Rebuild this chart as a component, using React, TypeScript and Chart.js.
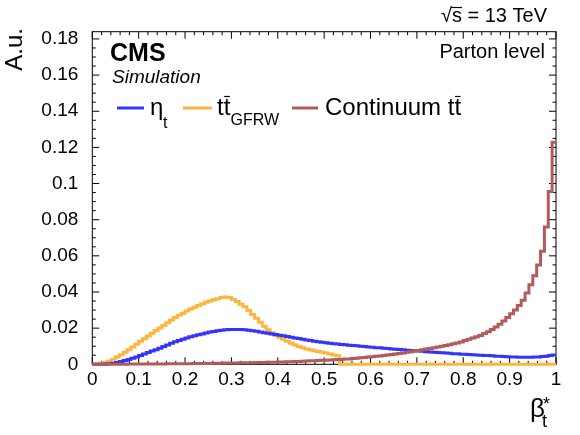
import React, { useEffect, useRef } from "react";
import { Chart, registerables } from "chart.js";

Chart.register(...registerables);

// 120 bins of beta_t* between 0 and 1, normalised (A.u.)
const NBINS = 120;

const etaT = [
  0, 0, 0, 0.0001, 0.0003, 0.0006, 0.001, 0.0015, 0.0021, 0.0027,
  0.0034, 0.0041, 0.0049, 0.0057, 0.0065, 0.0073, 0.0081, 0.0089, 0.0098, 0.0107,
  0.0116, 0.0125, 0.0132, 0.0139, 0.0146, 0.0153, 0.0158, 0.0163, 0.0168, 0.0173,
  0.0178, 0.0182, 0.0186, 0.0189, 0.0191, 0.0193, 0.0193, 0.0193, 0.0192, 0.0191,
  0.0189, 0.0186, 0.0183, 0.0179, 0.0175, 0.0172, 0.0168, 0.0165, 0.0161, 0.0158,
  0.0154, 0.015, 0.0146, 0.0143, 0.0139, 0.0135, 0.0131, 0.0128, 0.0125, 0.0122,
  0.0119, 0.0117, 0.0114, 0.0112, 0.011, 0.0108, 0.0106, 0.0104, 0.0102, 0.01,
  0.0098, 0.0096, 0.0094, 0.0092, 0.0091, 0.0089, 0.0087, 0.0085, 0.0083, 0.0082,
  0.008, 0.0078, 0.0077, 0.0075, 0.0073, 0.0072, 0.007, 0.0068, 0.0067, 0.0065,
  0.0064, 0.0062, 0.0061, 0.0059, 0.0058, 0.0056, 0.0055, 0.0054, 0.0053, 0.0052,
  0.005, 0.0049, 0.0048, 0.0047, 0.0045, 0.0044, 0.0043, 0.0042, 0.0041, 0.004,
  0.0039, 0.0039, 0.0039, 0.0039, 0.004, 0.0041, 0.0043, 0.0045, 0.0048, 0.0052,
];

const ttGFRW = [
  0.0001, 0.0003, 0.0007, 0.0011, 0.0018, 0.0028, 0.004, 0.0053, 0.0066, 0.0081,
  0.0096, 0.0111, 0.0127, 0.0142, 0.0157, 0.0172, 0.0187, 0.0201, 0.0215, 0.023,
  0.0245, 0.0259, 0.0271, 0.0283, 0.0295, 0.0306, 0.0316, 0.0325, 0.0334, 0.0343,
  0.035, 0.0357, 0.0363, 0.0369, 0.0373, 0.037, 0.036, 0.0348, 0.0332, 0.0318,
  0.0297, 0.0276, 0.0255, 0.0233, 0.021, 0.0191, 0.0174, 0.016, 0.0149, 0.0138,
  0.0127, 0.0117, 0.0107, 0.0099, 0.0091, 0.0085, 0.008, 0.0075, 0.0071, 0.0066,
  0.0062, 0.0057, 0.0052, 0.0047, 0, 0, 0, 0, 0, 0,
  0, 0, 0, 0, 0, 0, 0, 0, 0, 0,
  0, 0, 0, 0, 0, 0, 0, 0, 0, 0,
  0, 0, 0, 0, 0, 0, 0, 0, 0, 0,
  0, 0, 0, 0, 0, 0, 0, 0, 0, 0,
  0, 0, 0, 0, 0, 0, 0, 0, 0, 0,
];

const continuumTT = [
  0.00001, 0.00002, 0.00003, 0.00004, 0.00005, 0.00006, 0.00007, 0.00008, 0.00009, 0.0001,
  0.00011, 0.00012, 0.00013, 0.00015, 0.00016, 0.00018, 0.0002, 0.00021, 0.00023, 0.00024,
  0.00026, 0.00027, 0.00029, 0.0003, 0.00032, 0.00035, 0.00038, 0.00041, 0.00044, 0.00047,
  0.0005, 0.00054, 0.00058, 0.00062, 0.00066, 0.0007, 0.00073, 0.00077, 0.0008, 0.00084,
  0.00088, 0.00092, 0.00096, 0.001, 0.00105, 0.0011, 0.00115, 0.0012, 0.00125, 0.0013,
  0.00135, 0.0014, 0.0015, 0.0016, 0.0017, 0.0018, 0.0019, 0.002, 0.0021, 0.0022,
  0.0023, 0.0024, 0.0025, 0.0026, 0.0027, 0.0029, 0.003, 0.0032, 0.0034, 0.0036,
  0.0038, 0.004, 0.0042, 0.0044, 0.0046, 0.0048, 0.0051, 0.0054, 0.0057, 0.006,
  0.0063, 0.0066, 0.007, 0.0073, 0.0077, 0.008, 0.0084, 0.0088, 0.0092, 0.0096,
  0.01, 0.0104, 0.0108, 0.0113, 0.0118, 0.0124, 0.0131, 0.0138, 0.0145, 0.0152,
  0.016, 0.017, 0.018, 0.0193, 0.0207, 0.0222, 0.024, 0.0259, 0.028, 0.03,
  0.0325, 0.0355, 0.0395, 0.044, 0.049, 0.055, 0.0625, 0.0759, 0.0956, 0.1228,
];

const xTickValues = [0, 0.1, 0.2, 0.3, 0.4, 0.5, 0.6, 0.7, 0.8, 0.9, 1];
const xTickLabels = ["0", "0.1", "0.2", "0.3", "0.4", "0.5", "0.6", "0.7", "0.8", "0.9", "1"];
const yTickValues = [0, 0.02, 0.04, 0.06, 0.08, 0.1, 0.12, 0.14, 0.16, 0.18];
const yTickLabels = ["0", "0.02", "0.04", "0.06", "0.08", "0.1", "0.12", "0.14", "0.16", "0.18"];

const BLUE = "#3434ff";
const ORANGE = "#ffb43c";
const BROWN = "#b35a5a";
const FONT = "'Liberation Sans', Arial, Helvetica, sans-serif";

// bin contents -> points at the left bin edges, plus the closing edge
const toSteps = (vals: number[]) => {
  const pts = vals.map((v, i) => ({ x: i / NBINS, y: v }));
  pts.push({ x: 1, y: vals[vals.length - 1] });
  return pts;
};

const rootFrame = {
  id: "rootFrame",
  beforeDatasetsDraw(chart: any) {
    const { ctx, chartArea: a } = chart;
    const xs = chart.scales.x;
    const ys = chart.scales.y;
    ctx.save();
    ctx.strokeStyle = "#000";
    ctx.lineWidth = 1;
    ctx.strokeRect(a.left, a.top, a.right - a.left, a.bottom - a.top);
    ctx.beginPath();
    for (let k = 0; k <= 50; k++) {
      const px = xs.getPixelForValue(k * 0.02);
      const len = k % 5 === 0 ? 7 : 3.5;
      ctx.moveTo(px, a.bottom);
      ctx.lineTo(px, a.bottom - len);
      ctx.moveTo(px, a.top);
      ctx.lineTo(px, a.top + len);
    }
    for (let k = 0; k * 0.005 <= 0.184; k++) {
      const py = ys.getPixelForValue(k * 0.005);
      const len = k % 4 === 0 ? 7 : 3.5;
      ctx.moveTo(a.left, py);
      ctx.lineTo(a.left + len, py);
      ctx.moveTo(a.right, py);
      ctx.lineTo(a.right - len, py);
    }
    ctx.stroke();
    ctx.restore();
  },
  afterDraw(chart: any) {
    const ctx = chart.ctx;
    ctx.save();
    ctx.fillStyle = "#000";
    ctx.textBaseline = "alphabetic";
    const txt = (s: string, x: number, y: number, font: string, align = "left") => {
      ctx.font = font;
      ctx.textAlign = align;
      ctx.fillText(s, x, y);
    };
    const bar = (x0: number, x1: number, y: number) => {
      ctx.beginPath();
      ctx.lineWidth = 1.2;
      ctx.strokeStyle = "#000";
      ctx.moveTo(x0, y);
      ctx.lineTo(x1, y);
      ctx.stroke();
    };

    // y title
    ctx.save();
    ctx.translate(22, 28);
    ctx.rotate(-Math.PI / 2);
    txt("A.u.", 0, 0, `24px ${FONT}`, "right");
    ctx.restore();

    // x title beta_t^*
    txt("β", 530, 417, `26px ${FONT}`);
    txt("t", 542, 427, `18px ${FONT}`);
    txt("*", 543, 410, `18px ${FONT}`);

    // CMS label
    txt("CMS", 110, 61, `bold 25px ${FONT}`);
    txt("Simulation", 112, 83, `italic 19px ${FONT}`);
    txt("Parton level", 545, 58, `20px ${FONT}`, "right");

    // sqrt(s) = 13 TeV
    ctx.font = `20px ${FONT}`;
    const rest = " = 13 TeV";
    const wRest = ctx.measureText(rest).width;
    const wS = ctx.measureText("s").width;
    const wRoot = ctx.measureText("√").width;
    const x0 = 547 - wRest - wS - wRoot;
    txt("√", x0, 22, `20px ${FONT}`);
    txt("s", x0 + wRoot, 22, `20px ${FONT}`);
    bar(x0 + wRoot - 1, x0 + wRoot + wS, 7.5);
    txt(rest, x0 + wRoot + wS, 22, `20px ${FONT}`);

    // legend
    const legendLine = (c: string, a: number, b: number) => {
      ctx.beginPath();
      ctx.strokeStyle = c;
      ctx.lineWidth = 3;
      ctx.moveTo(a, 108);
      ctx.lineTo(b, 108);
      ctx.stroke();
    };
    legendLine(BLUE, 117, 144);
    txt("η", 150, 115, `24px ${FONT}`);
    txt("t", 163, 128, `16px ${FONT}`);

    legendLine(ORANGE, 183, 212);
    ctx.font = `24px ${FONT}`;
    const wt = ctx.measureText("t").width;
    txt("tt", 217, 115, `24px ${FONT}`);
    bar(217 + wt + 0.5, 217 + 2 * wt - 0.5, 96.5);
    txt("GFRW", 230.5, 125, `16px ${FONT}`);

    legendLine(BROWN, 292, 318);
    ctx.font = `24px ${FONT}`;
    const wc = ctx.measureText("Continuum t").width;
    txt("Continuum tt", 325, 115, `24px ${FONT}`);
    bar(325 + wc + 0.5, 325 + wc + wt - 0.5, 96.5);

    ctx.restore();
  },
};

const App: React.FC = () => {
  const canvasRef = useRef<HTMLCanvasElement | null>(null);

  useEffect(() => {
    if (!canvasRef.current) return;
    const chart = new Chart(canvasRef.current, {
      type: "line",
      data: {
        datasets: [
          {
            label: "Continuum tt",
            data: toSteps(continuumTT),
            borderColor: BROWN,
            order: 0,
          },
          {
            label: "eta_t",
            data: toSteps(etaT),
            borderColor: BLUE,
            order: 1,
          },
          {
            label: "tt GFRW",
            data: toSteps(ttGFRW),
            borderColor: ORANGE,
            order: 2,
          },
        ] as any,
      },
      options: {
        animation: false,
        responsive: true,
        maintainAspectRatio: false,
        parsing: false,
        layout: { padding: { top: 31.7, right: 24, bottom: 0, left: 0 } },
        datasets: {
          line: {
            stepped: true,
            borderWidth: 3,
            pointRadius: 0,
            fill: false,
            clip: 4,
          },
        } as any,
        plugins: {
          legend: { display: false },
          tooltip: { enabled: false },
        },
        scales: {
          x: {
            type: "linear",
            min: 0,
            max: 1,
            grid: { display: false, drawTicks: false },
            border: { display: false },
            afterFit: (s: any) => {
              s.height = 70.7;
            },
            afterBuildTicks: (s: any) => {
              s.ticks = xTickValues.map((v) => ({ value: v }));
            },
            ticks: {
              autoSkip: false,
              maxRotation: 0,
              padding: 4,
              color: "#000",
              font: { family: FONT, size: 19 },
              callback: (_v: any, i: number) => xTickLabels[i],
            },
          },
          y: {
            type: "linear",
            min: 0,
            max: 0.184,
            grid: { display: false, drawTicks: false },
            border: { display: false },
            afterFit: (s: any) => {
              s.width = 92.3;
            },
            afterBuildTicks: (s: any) => {
              s.ticks = yTickValues.map((v) => ({ value: v }));
            },
            ticks: {
              autoSkip: false,
              padding: 14,
              color: "#000",
              font: { family: FONT, size: 19 },
              callback: (_v: any, i: number) => yTickLabels[i],
            },
          },
        },
      },
      plugins: [rootFrame],
    });
    return () => {
      chart.destroy();
    };
  }, []);

  return (
    <div style={{ position: "absolute", left: 0, top: 0, width: 580, height: 435, background: "#fff" }}>
      <canvas ref={canvasRef} />
    </div>
  );
};

export default App;
